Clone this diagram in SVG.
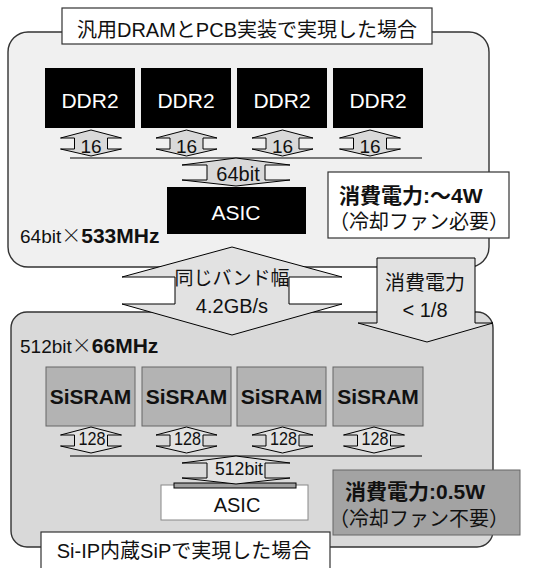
<svg xmlns="http://www.w3.org/2000/svg" xmlns:xlink="http://www.w3.org/1999/xlink" width="533" height="568" viewBox="0 0 533 568">
  <style>
    text { font-family: "Liberation Sans", "Noto Sans CJK JP", sans-serif; fill: #111; }
    .panel { stroke: #333; stroke-width: 1.4; }
    .label { fill: #fff; stroke: #333; stroke-width: 1.2; }
    .chip-dark { fill: #000; }
    .chip-gray { fill: #b3b3b3; stroke: #666; stroke-width: 1; }
    .arr { stroke: #000; stroke-width: 1; stroke-linejoin: miter; }
    .wt { fill: #fff; }
    .c { text-anchor: middle; }
    .b { font-weight: bold; }
    .x { font-family: "Noto Sans CJK JP", sans-serif; font-weight: 300; }
  </style>
  <defs>
    <!-- vertical double-headed bus arrows, drawn from the top tip -->
    <path id="busSmall" d="M0,0 L30.5,8 L16.5,8 L16.5,19 L30.5,19 L0,26 L-30.5,19 L-16.5,19 L-16.5,8 L-30.5,8 Z"/>
    <path id="busWide" d="M0,0 L54,7 L29,7 L29,22 L54,22 L0,28 L-54,22 L-29,22 L-29,7 L-54,7 Z"/>
  </defs>

  <!-- upper board: DDR2 on PCB -->
  <g id="pcb-panel">
    <rect class="panel" x="8" y="32" width="481" height="235" rx="20" fill="#f0f0f0"/>
  </g>
  <g id="pcb-title">
    <rect class="label" x="62" y="8" width="370" height="36"/>
    <text class="c" x="247" y="37" font-size="20">汎用DRAMとPCB実装で実現した場合</text>
  </g>
  <g id="ddr2-1"><rect class="chip-dark" x="45" y="68" width="90" height="60"/><text class="c wt" x="90" y="108" font-size="21">DDR2</text></g>
  <g id="ddr2-2"><rect class="chip-dark" x="141" y="68" width="90" height="60"/><text class="c wt" x="186" y="108" font-size="21">DDR2</text></g>
  <g id="ddr2-3"><rect class="chip-dark" x="237" y="68" width="90" height="60"/><text class="c wt" x="282" y="108" font-size="21">DDR2</text></g>
  <g id="ddr2-4"><rect class="chip-dark" x="333" y="68" width="90" height="60"/><text class="c wt" x="378" y="108" font-size="21">DDR2</text></g>
  <g id="asic-pcb"><rect class="chip-dark" x="167" y="187" width="139" height="47"/><text class="c wt" x="236" y="220" font-size="21">ASIC</text></g>
  <g id="pcb-rate">
    <text x="20" y="243" font-size="19">64bit<tspan class="x" font-size="20">×</tspan><tspan class="b" font-size="21">533MHz</tspan></text>
  </g>
  <g id="pcb-power">
    <rect class="label" x="328" y="172" width="181" height="66"/>
    <text x="339" y="203" font-size="21" class="b">消費電力:～4W</text>
    <text x="329" y="229" font-size="20">（冷却ファン必要）</text>
  </g>

  <!-- lower board: SiP with Si interposer -->
  <g id="sip-panel">
    <rect class="panel" x="11" y="312" width="482" height="235" rx="16" fill="#d9d9d9"/>
  </g>
  <g id="sip-rate">
    <text x="20" y="353" font-size="19">512bit<tspan class="x" font-size="20">×</tspan><tspan class="b" font-size="21">66MHz</tspan></text>
  </g>
  <g id="sisram-1"><rect class="chip-gray" x="46" y="367" width="89" height="59"/><text class="c b" x="90.5" y="404" font-size="21">SiSRAM</text></g>
  <g id="sisram-2"><rect class="chip-gray" x="142" y="367" width="89" height="59"/><text class="c b" x="186.5" y="404" font-size="21">SiSRAM</text></g>
  <g id="sisram-3"><rect class="chip-gray" x="237" y="367" width="89" height="59"/><text class="c b" x="281.5" y="404" font-size="21">SiSRAM</text></g>
  <g id="sisram-4"><rect class="chip-gray" x="333" y="367" width="90" height="59"/><text class="c b" x="378" y="404" font-size="21">SiSRAM</text></g>
  <g id="asic-sip">
    <rect x="161" y="485" width="147" height="35" fill="#fff" stroke="#888" stroke-width="1"/>
    <rect x="174" y="483" width="122" height="5" fill="#a0a0a0" stroke="#000" stroke-width="1"/>
    <text class="c" x="237" y="512" font-size="20">ASIC</text>
  </g>
  <g id="sip-power">
    <rect x="333" y="470" width="187" height="65" fill="#a3a3a3" stroke="#666" stroke-width="1"/>
    <text x="345" y="499" font-size="21" class="b">消費電力:0.5W</text>
    <text x="329" y="526" font-size="20">（冷却ファン不要）</text>
  </g>
  <g id="sip-title">
    <rect class="label" x="41" y="532" width="289" height="44"/>
    <text class="c" x="184" y="558" font-size="20">Si-IP内蔵SiPで実現した場合</text>
  </g>

  <!-- buses and comparison arrows -->
  <g id="connectors">
    <line x1="70" y1="158" x2="422" y2="158" stroke="#000" stroke-width="1.2"/>
    <use xlink:href="#busSmall" class="arr" fill="#d9d9d9" x="91" y="130"/>
    <use xlink:href="#busSmall" class="arr" fill="#d9d9d9" x="186.5" y="130"/>
    <use xlink:href="#busSmall" class="arr" fill="#d9d9d9" x="282.5" y="130"/>
    <use xlink:href="#busSmall" class="arr" fill="#d9d9d9" x="370" y="130"/>
    <text class="c" x="91" y="153" font-size="19">16</text>
    <text class="c" x="186.5" y="153" font-size="19">16</text>
    <text class="c" x="282.5" y="153" font-size="19">16</text>
    <text class="c" x="370" y="153" font-size="19">16</text>
    <use xlink:href="#busWide" class="arr" fill="#d9d9d9" x="236" y="158"/>
    <text class="c" x="238" y="181" font-size="20">64bit</text>

    <line x1="70" y1="456" x2="422" y2="456" stroke="#000" stroke-width="1.2"/>
    <use xlink:href="#busSmall" class="arr" fill="#e2e2e2" x="91" y="427"/>
    <use xlink:href="#busSmall" class="arr" fill="#e2e2e2" x="186.5" y="427"/>
    <use xlink:href="#busSmall" class="arr" fill="#e2e2e2" x="282.5" y="427"/>
    <use xlink:href="#busSmall" class="arr" fill="#e2e2e2" x="374" y="427"/>
    <text class="c" x="92" y="445" font-size="19" textLength="27" lengthAdjust="spacingAndGlyphs">128</text>
    <text class="c" x="187.5" y="445" font-size="19" textLength="27" lengthAdjust="spacingAndGlyphs">128</text>
    <text class="c" x="283.5" y="445" font-size="19" textLength="27" lengthAdjust="spacingAndGlyphs">128</text>
    <text class="c" x="375" y="445" font-size="19" textLength="27" lengthAdjust="spacingAndGlyphs">128</text>
    <use xlink:href="#busWide" class="arr" fill="#e2e2e2" x="236" y="456"/>
    <text class="c" x="239" y="475" font-size="19" textLength="48" lengthAdjust="spacingAndGlyphs">512bit</text>

    <!-- same bandwidth -->
    <path class="arr" fill="#e2e2e2" d="M232,247 L342,277 L289,277 L289,304 L342,304 L232,335 L122,304 L175,304 L175,277 L122,277 Z"/>
    <text class="c" x="232" y="285" font-size="19">同じバンド幅</text>
    <text class="c" x="232" y="313" font-size="20">4.2GB/s</text>

    <!-- power reduction -->
    <path class="arr" fill="#e2e2e2" d="M377,258 L475,258 L475,323 L493,323 L427,342 L358,323 L377,323 Z"/>
    <text class="c" x="425" y="290" font-size="20">消費電力</text>
    <text class="c" x="425" y="317" font-size="20">&lt; 1/8</text>
  </g>
</svg>
